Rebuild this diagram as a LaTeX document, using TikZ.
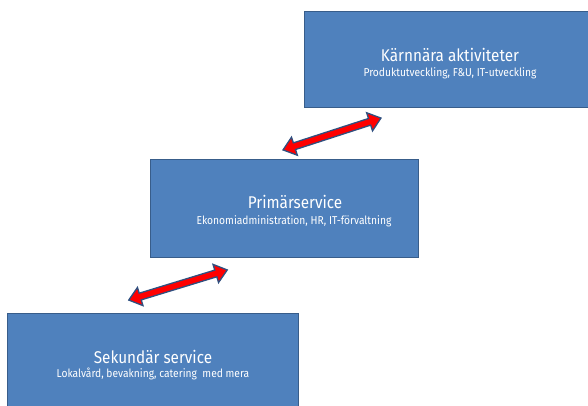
\documentclass[tikz,border=0pt]{standalone}
\usepackage{fontspec}
\setmainfont[FakeStretch=0.9]{Fira Sans}
\definecolor{boxfill}{HTML}{4F81BD}
\definecolor{boxline}{HTML}{385D8A}
\definecolor{arrowfill}{HTML}{FF0000}
\definecolor{arrowline}{HTML}{2F5080}
\tikzset{
  levelbox/.style={draw=boxline, line width=1pt, fill=boxfill},
  title/.style={text=white, font=\fontsize{17}{19}\selectfont, inner sep=0pt},
  sub/.style={text=white, font=\fontsize{11.4}{13}\selectfont, inner sep=0pt},
  link/.style={draw=arrowline, line width=1.3pt, fill=arrowfill, line join=miter},
}
% two-headed block arrow of half length #1, centred on the current origin
\newcommand\blockarrow[1]{%
  \draw[link] (-#1,0) -- (-#1+12,-9.5) -- (-#1+12,-3.5) -- (#1-12,-3.5)
    -- (#1-12,-9.5) -- (#1,0) -- (#1-12,9.5) -- (#1-12,3.5)
    -- (-#1+12,3.5) -- (-#1+12,9.5) -- cycle;}
\begin{document}
\begin{tikzpicture}[x=1pt,y=-1pt]
\useasboundingbox (0,0) rectangle (588,406);
\begin{scope}
\clip (0,0) rectangle (588,406);
% three level boxes
\draw[levelbox] (304,12) rectangle (600,108);
\draw[levelbox] (150,160) rectangle (418,257);
\draw[levelbox] (7,313) rectangle (298,420);
\end{scope}
\node[title] (t1) at (450,55) {Kärnnära aktiviteter};
\node[sub] (s1) at (450,73) {Produktutveckling, F\&U, IT-utveckling};
\node[title] (t2) at (295,202) {Primärservice};
\node[sub] (s2) at (294,221) {Ekonomiadministration, HR, IT-förvaltning};
\node[title] (t3) at (153,357) {Sekundär service};
\node[sub] (s3) at (153,374) {Lokalvård, bevakning, catering\ \ med mera};
% two-way links between the levels
\coordinate (a1) at (332,134);
\coordinate (a2) at (178,285);
\begin{scope}[shift={(a1)}, rotate=18]
  \blockarrow{51.5}
\end{scope}
\begin{scope}[shift={(a2)}, rotate=17]
  \blockarrow{51.5}
\end{scope}
\end{tikzpicture}
\end{document}
